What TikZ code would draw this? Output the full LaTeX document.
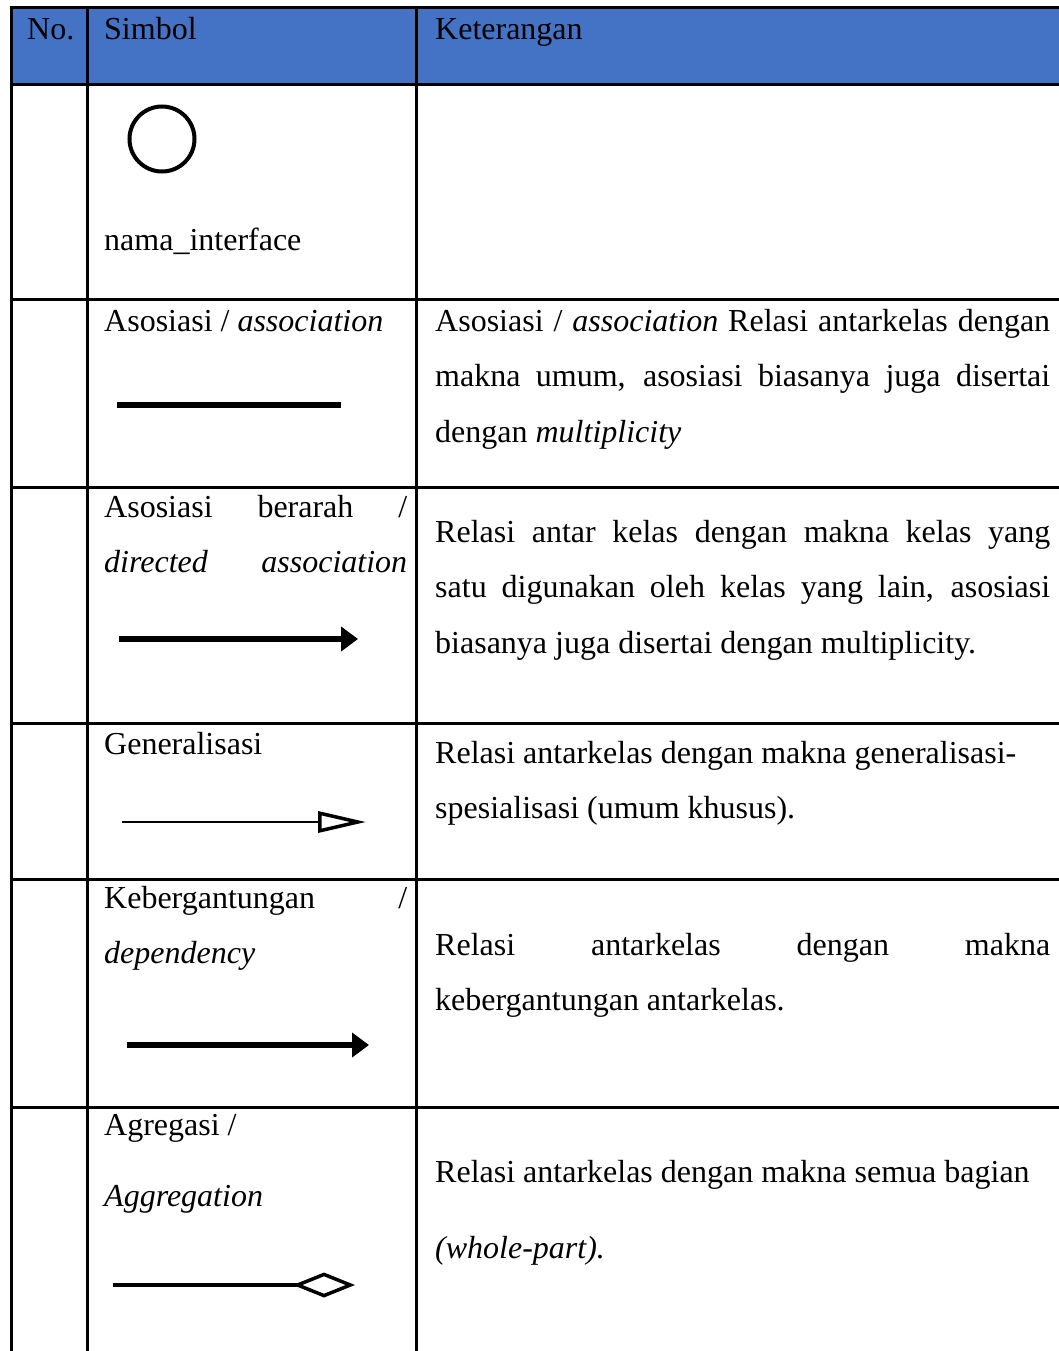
\documentclass[tikz,border=0pt]{standalone}
\usepackage{fontspec}
\setmainfont{Liberation Serif}
\usetikzlibrary{arrows.meta}
\definecolor{hdr}{HTML}{4472C4}
\begin{document}
\begin{tikzpicture}[x=1pt,y=-1pt,
  txt/.style={anchor=base west, inner sep=0pt, font=\fontsize{32}{40}\selectfont},
  grid/.style={line width=3pt, black},
  thickline/.style={line width=6pt, black},
  thickarrow/.style={line width=6.5pt, black, -{Triangle[length=17pt,width=24pt]}},
  genarrow/.style={line width=2pt, black, -{Triangle[open,length=48pt,width=21pt,line width=3.5pt]}},
  aggline/.style={line width=3.5pt, black, -{Diamond[open,length=62pt,width=25pt,line width=3.5pt]}}]
\useasboundingbox (0,0) rectangle (1059,1351);
% header fill
\fill[hdr] (11,8) rectangle (1059,85);
% grid lines
\foreach \yy in {8,85,299,487,723,879,1107} {\draw[grid] (9.5,\yy) -- (1059,\yy);}
\foreach \xx in {11,87,416} {\draw[grid] (\xx,6.5) -- (\xx,1351);}
% header
\node[txt] (hno) at (27,40) {No.};
\node[txt] (hsim) at (104,40) {Simbol};
\node[txt] (hket) at (435,40) {Keterangan};
% row 1
\node[draw, circle, minimum size=65pt, line width=4pt, inner sep=0pt] (iface) at (162,139) {};
\node[txt] (s1) at (104,250) {nama\_interface};
% row 2
\node[txt] (s2) at (104,331) {Asosiasi / \textit{association}};
\coordinate (a2s) at (117,405); \coordinate (a2e) at (341,405);
\draw[thickline] (a2s) -- (a2e);
\node[txt] (k2a) at (435,331) {\makebox[615pt][s]{Asosiasi / \textit{association} Relasi antarkelas dengan}};
\node[txt] (k2b) at (435,386) {\makebox[615pt][s]{makna umum, asosiasi biasanya juga disertai}};
\node[txt] (k2c) at (435,442) {dengan \textit{multiplicity}};
% row 3
\node[txt] (s3a) at (104,517) {\makebox[303pt][s]{Asosiasi berarah /}};
\node[txt] (s3b) at (104,572) {\makebox[303pt][s]{\textit{directed association}}};
\coordinate (a3s) at (119,639); \coordinate (a3e) at (358,639);
\draw[thickarrow] (a3s) -- (a3e);
\node[txt] (k3a) at (435,542) {\makebox[615pt][s]{Relasi antar kelas dengan makna kelas yang}};
\node[txt] (k3b) at (435,597) {\makebox[615pt][s]{satu digunakan oleh kelas yang lain, asosiasi}};
\node[txt] (k3c) at (435,653) {biasanya juga disertai dengan multiplicity.};
% row 4
\node[txt] (s4) at (104,754) {Generalisasi};
\coordinate (a4s) at (122,822); \coordinate (a4e) at (366,822);
\draw[genarrow] (a4s) -- (a4e);
\node[txt] (k4a) at (435,763) {Relasi antarkelas dengan makna generalisasi-};
\node[txt] (k4b) at (435,818) {spesialisasi (umum khusus).};
% row 5
\node[txt] (s5a) at (104,908) {\makebox[303pt][s]{Kebergantungan /}};
\node[txt] (s5b) at (104,963) {\textit{dependency}};
\coordinate (a5s) at (127,1045); \coordinate (a5e) at (369,1045);
\draw[thickarrow] (a5s) -- (a5e);
\node[txt] (k5a) at (435,955) {\makebox[615pt][s]{Relasi antarkelas dengan makna}};
\node[txt] (k5b) at (435,1010) {kebergantungan antarkelas.};
% row 6
\node[txt] (s6a) at (104,1135) {Agregasi /};
\node[txt] (s6b) at (104,1206) {\textit{Aggregation}};
\coordinate (a6s) at (113,1285); \coordinate (a6e) at (355,1285);
\draw[aggline] (a6s) -- (a6e);
\node[txt] (k6a) at (435,1182) {Relasi antarkelas dengan makna semua bagian};
\node[txt] (k6b) at (435,1258) {\textit{(whole-part).}};
\end{tikzpicture}
\end{document}
